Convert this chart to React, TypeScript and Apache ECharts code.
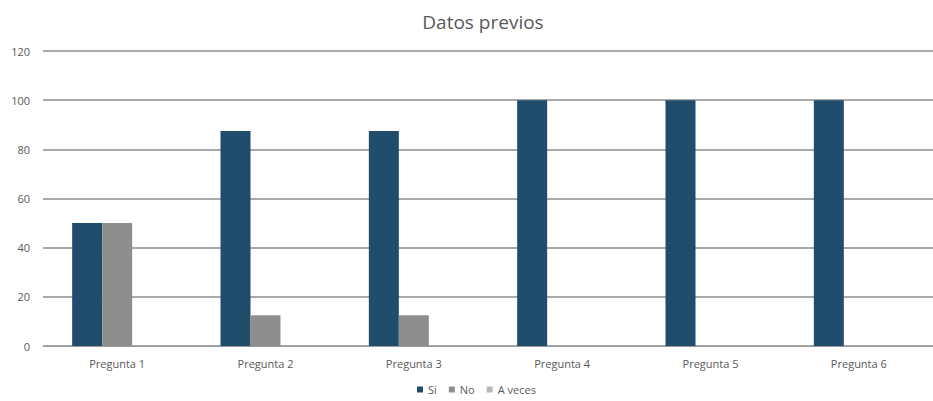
import React, { useEffect, useRef } from "react";
import * as echarts from "echarts";

const categories = ["Pregunta 1", "Pregunta 2", "Pregunta 3", "Pregunta 4", "Pregunta 5", "Pregunta 6"];
const siValues = [50, 87.5, 87.5, 100, 100, 100];
const noValues = [50, 12.5, 12.5, 0, 0, 0];
const aVecesValues = [0, 0, 0, 0, 0, 0];
const seriesNames = ["Si", "No", "A veces"];

export default function App() {
  const ref = useRef<HTMLDivElement>(null);
  useEffect(() => {
    document.body.style.margin = "0";
    const chart = echarts.init(ref.current!, null, { renderer: "svg" });
    const font = "'Open Sans', 'Noto Sans', sans-serif";
    chart.setOption({
      animation: false,
      backgroundColor: "#ffffff",
      title: {
        text: "Datos previos",
        left: 478,
        textAlign: "center",
        top: 7,
        textStyle: { fontFamily: font, fontSize: 19, fontWeight: "normal", color: "#595959" },
      },
      legend: {
        bottom: 1,
        left: 412,
        itemWidth: 6,
        itemHeight: 6,
        itemGap: 12,
        icon: "rect",
        textStyle: { fontFamily: font, fontSize: 11, color: "#595959" },
        data: seriesNames,
      },
      grid: { left: 43, width: 895, top: 51, bottom: 55, containLabel: false },
      xAxis: {
        type: "category",
        data: categories,
        axisLine: { lineStyle: { color: "#9a9a9a", width: 1 } },
        axisTick: { show: false },
        axisLabel: { fontFamily: font, fontSize: 11, color: "#595959", margin: 12 },
      },
      yAxis: {
        type: "value",
        min: 0,
        max: 120,
        interval: 20,
        axisLine: { show: false },
        axisTick: { show: false },
        axisLabel: { fontFamily: font, fontSize: 11, color: "#595959", margin: 13 },
        splitLine: { lineStyle: { color: "#8c8c8c", width: 1.5 } },
      },
      series: [
        { name: seriesNames[0], type: "bar", data: siValues, barWidth: 30, barGap: "0%", itemStyle: { color: "#1f4d6b" } },
        { name: seriesNames[1], type: "bar", data: noValues, barWidth: 30, barGap: "0%", itemStyle: { color: "#8e8e8e" } },
        { name: seriesNames[2], type: "bar", data: aVecesValues, barWidth: 30, barGap: "0%", itemStyle: { color: "#b8b8b8" } },
      ],
    });
    return () => chart.dispose();
  }, []);
  return <div ref={ref} style={{ width: 933, height: 401 }} />;
}
